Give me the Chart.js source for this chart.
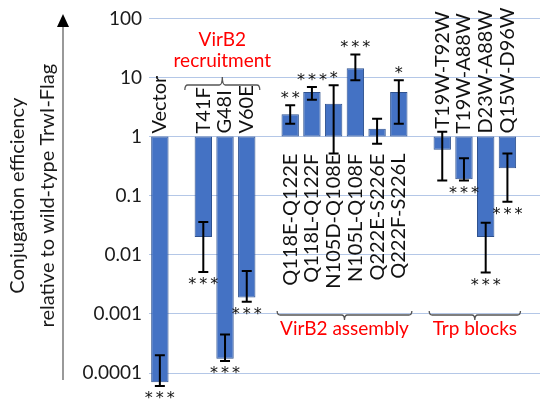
<!DOCTYPE html>
<html>
<head>
<meta charset="utf-8">
<script src="https://cdn.jsdelivr.net/npm/chart.js@4.4.0/dist/chart.umd.min.js"></script>
<style>
  html, body { margin: 0; padding: 0; background: #fff; }
  #wrap { width: 545px; height: 405px; }
</style>
</head>
<body>
<div id="wrap"><canvas id="chart"></canvas></div>
<script>
'use strict';

/* ── Data ──────────────────────────────────────────────────────────────── */
// '' = empty spacer slot between groups
const categories = [
  'Vector', '',
  'T41F', 'G48I', 'V60E', '',
  'Q118E-Q122E', 'Q118L-Q122F', 'N105D-Q108E', 'N105L-Q108F', 'Q222E-S226E', 'Q222F-S226L', '',
  'T19W-T92W', 'T19W-A88W', 'D23W-A88W', 'Q15W-D96W', ''
];
const values  = [7e-5, null, 0.02, 1.75e-4, 0.0019, null, 2.4, 5.7, 3.6, 14.3, 1.36, 5.7, null, 0.6, 0.19, 0.02, 0.29, null];
const errHigh = [2e-4, null, 0.036, 4.5e-4, 0.0053, null, 3.4, 6.9, 7.4, 24.6, 2.0, 9.0, null, 1.21, 0.43, 0.035, 0.52, null];
const errLow  = [6e-5, null, 0.0051, 1.6e-4, 0.0016, null, 1.65, 4.2, 0.52, 9.0, 0.76, 1.65, null, 0.18, 0.18, 0.005, 0.079, null];
const stars   = ['***', '', '***', '***', '***', '', '**', '***', '*', '***', '', '*', '', '', '***', '***', '***', ''];

const tickValues = [0.0001, 0.001, 0.01, 0.1, 1, 10, 100];
const tickLabels = ['0.0001', '0.001', '0.01', '0.1', '1', '10', '100'];

const groupNames = [['VirB2', 'recruitment'], ['VirB2 assembly'], ['Trp blocks']];
const groupFrom  = [2, 6, 13];
const groupTo    = [4, 11, 16];

/* ── Helpers ───────────────────────────────────────────────────────────── */
const FONT = 'Lato, "Open Sans", sans-serif';
const RED  = '#ff0000';

function drawBracket(ctx, x0, x1, yb, endLen, tickLen, dir) {
  // dir = 1: ends point down, centre tick up; dir = -1: the opposite
  const xc = (x0 + x1) / 2, r = 3;
  ctx.beginPath();
  ctx.moveTo(x0, yb + dir * endLen);
  ctx.quadraticCurveTo(x0, yb, x0 + r, yb);
  ctx.lineTo(xc - r, yb);
  ctx.quadraticCurveTo(xc, yb, xc, yb - dir * tickLen);
  ctx.quadraticCurveTo(xc, yb, xc + r, yb);
  ctx.lineTo(x1 - r, yb);
  ctx.quadraticCurveTo(x1, yb, x1, yb + dir * endLen);
  ctx.stroke();
}

/* ── Plugin: error bars, labels, stars, brackets, axis arrow ───────────── */
const decorations = {
  id: 'decorations',
  afterDatasetsDraw(chart) {
    const { ctx } = chart;
    const xs = chart.scales.x, ys = chart.scales.y;
    const y1 = ys.getPixelForValue(1);
    const slot = xs.getPixelForValue(1) - xs.getPixelForValue(0);

    ctx.save();
    values.forEach((v, i) => {
      if (v == null) return;
      const cx = xs.getPixelForValue(i);
      const yHi = ys.getPixelForValue(errHigh[i]);
      const yLo = ys.getPixelForValue(errLow[i]);

      // error bar
      ctx.strokeStyle = '#000';
      ctx.lineWidth = 2;
      ctx.beginPath();
      ctx.moveTo(cx, yHi); ctx.lineTo(cx, yLo);
      ctx.moveTo(cx - 5, yHi); ctx.lineTo(cx + 5, yHi);
      ctx.moveTo(cx - 5, yLo); ctx.lineTo(cx + 5, yLo);
      ctx.stroke();

      // category label, rotated
      ctx.save();
      ctx.font = '20px ' + FONT;
      ctx.fillStyle = '#111';
      ctx.textBaseline = 'middle';
      if (v < 1) {
        ctx.translate(cx, Math.min(y1, yHi) - 3);
        ctx.textAlign = 'left';
      } else {
        ctx.translate(cx, y1 + 17);
        ctx.textAlign = 'right';
      }
      ctx.rotate(-Math.PI / 2);
      ctx.fillText(categories[i], 0, 0);
      ctx.restore();

      // significance stars
      const n = stars[i].length;
      if (n) {
        ctx.font = '16px "DejaVu Sans", sans-serif';
        ctx.fillStyle = '#111';
        ctx.textAlign = 'center';
        ctx.textBaseline = 'alphabetic';
        const m = ctx.measureText('*');
        const half = (m.actualBoundingBoxAscent - m.actualBoundingBoxDescent) / 2;
        const target = v < 1 ? Math.max(ys.getPixelForValue(v), yLo) + 9 : yHi - 10;
        for (let k = 0; k < n; k++) {
          ctx.fillText('*', cx + (k - (n - 1) / 2) * 11, target + half);
        }
      }
    });

    // group brackets + red captions
    ctx.strokeStyle = '#555';
    ctx.lineWidth = 1.3;
    ctx.fillStyle = RED;
    ctx.font = '19px ' + FONT;
    ctx.textAlign = 'center';
    ctx.textBaseline = 'middle';
    groupNames.forEach((lines, g) => {
      const x0 = xs.getPixelForValue(groupFrom[g]) - (g === 0 ? 0.85 : 0.6) * slot;
      const x1 = xs.getPixelForValue(groupTo[g]) + 0.6 * slot;
      const xc = (x0 + x1) / 2;
      if (g === 0) {
        drawBracket(ctx, x0, x1, 85, 5, 8, 1);
        ctx.fillText(lines[0], xc, 40);
        ctx.fillText(lines[1], xc, 61);
      } else {
        drawBracket(ctx, x0, x1, 315, 4, 5, -1);
        ctx.fillText(lines[0], xc, 329);
      }
    });

    // axis arrow
    ctx.strokeStyle = '#777';
    ctx.lineWidth = 1.5;
    ctx.beginPath();
    ctx.moveTo(63, 380); ctx.lineTo(63, 26);
    ctx.stroke();
    ctx.fillStyle = '#000';
    ctx.beginPath();
    ctx.moveTo(63, 14); ctx.lineTo(57, 27); ctx.lineTo(69, 27);
    ctx.closePath();
    ctx.fill();
    ctx.restore();
  }
};

/* ── Chart ─────────────────────────────────────────────────────────────── */
new Chart(document.getElementById('chart'), {
  type: 'bar',
  data: {
    labels: categories,
    datasets: [{
      data: values.map(v => (v == null ? null : [1, v])),
      backgroundColor: '#4472c4',
      borderColor: '#2f528f',
      borderWidth: 1,
      borderSkipped: false,
      barPercentage: 0.8,
      categoryPercentage: 1,
      clip: false
    }]
  },
  options: {
    responsive: true,
    maintainAspectRatio: false,
    animation: false,
    layout: { padding: { left: 1, right: 5, top: 15, bottom: 32 } },
    plugins: { legend: { display: false }, tooltip: { enabled: false } },
    scales: {
      x: { display: false },
      y: {
        type: 'logarithmic',
        min: 0.0001,
        max: 100,
        afterFit: s => { s.width = 148; },
        afterBuildTicks: s => { s.ticks = tickValues.map(v => ({ value: v })); },
        ticks: {
          color: '#1a1a1a',
          padding: 7,
          font: { family: FONT, size: 19 },
          callback: v => tickLabels[tickValues.indexOf(v)]
        },
        grid: { color: '#b4c7e7', lineWidth: 1, drawTicks: false },
        border: { display: false },
        title: {
          display: true,
          text: ['Conjugation efficiency', 'relative to wild-type TrwI-Flag'],
          color: '#1a1a1a',
          font: { family: FONT, size: 20, lineHeight: 1.5 },
          padding: { top: 2, bottom: 0 }
        }
      }
    }
  },
  plugins: [decorations]
});
</script>
</body>
</html>
